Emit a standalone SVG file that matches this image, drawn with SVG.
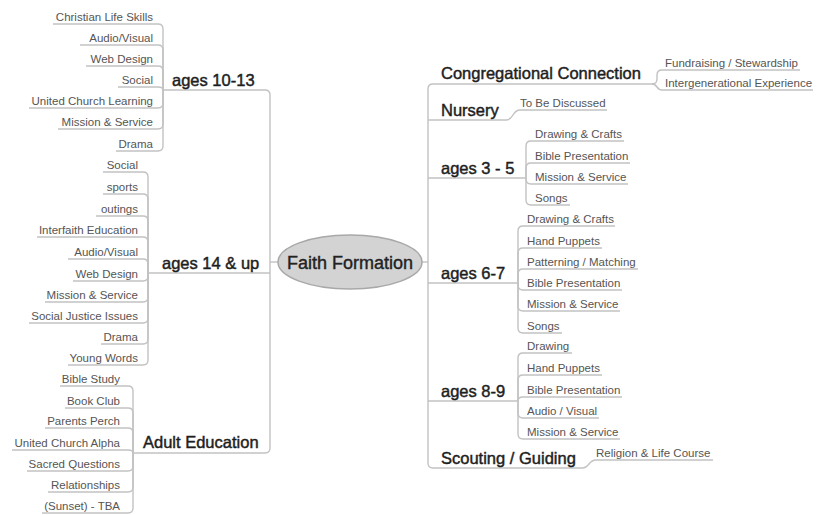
<svg xmlns="http://www.w3.org/2000/svg" width="817" height="515" viewBox="0 0 817 515">
<style>
.leaf{font-family:"Liberation Sans",Arial,sans-serif;font-size:11.5px;fill:#555}
.lt{text-anchor:end}
.topic{font-family:"Liberation Sans",Arial,sans-serif;font-size:16.5px;fill:#1e1e1e;stroke:#1e1e1e;stroke-width:0.45}
.conn path{fill:none;stroke:#c2c2c2;stroke-width:1.4}
</style>
<rect width="817" height="515" fill="#fff"/>
<g class="conn" id="connectors">
<path d="M163,90 H265 Q270,90 270,95 V448 Q270,453 265,453 H133"/>
<path d="M148,273 H270"/>
<path d="M270,262 H278"/>
<path d="M163,90 V29 Q163,24 158,24 H53"/>
<path d="M163,90 V50 Q163,45 158,45 H80"/>
<path d="M163,90 V71 Q163,66 158,66 H86"/>
<path d="M163,90 Q163,87 158,87 H118"/>
<path d="M163,90 V103 Q163,108 158,108 H29"/>
<path d="M163,90 V124 Q163,129 158,129 H58"/>
<path d="M163,90 V146 Q163,151 158,151 H116"/>
<path d="M148,273 V177 Q148,172 143,172 H103"/>
<path d="M148,273 V199 Q148,194 143,194 H103"/>
<path d="M148,273 V221 Q148,216 143,216 H96"/>
<path d="M148,273 V242 Q148,237 143,237 H37"/>
<path d="M148,273 V264 Q148,259 143,259 H68"/>
<path d="M148,273 V276 Q148,281 143,281 H73"/>
<path d="M148,273 V297 Q148,302 143,302 H45"/>
<path d="M148,273 V318 Q148,323 143,323 H29"/>
<path d="M148,273 V339 Q148,344 143,344 H101"/>
<path d="M148,273 V360 Q148,365 143,365 H68"/>
<path d="M133,453 V391 Q133,386 128,386 H60"/>
<path d="M133,453 V413 Q133,408 128,408 H65"/>
<path d="M133,453 V433 Q133,428 128,428 H45"/>
<path d="M133,453 Q133,450 128,450 H12"/>
<path d="M133,453 V466 Q133,471 128,471 H27"/>
<path d="M133,453 V487 Q133,492 128,492 H48"/>
<path d="M133,453 V508 Q133,513 128,513 H42"/>
<path d="M652,84 H433 Q428,84 428,89 V463 Q428,468 433,468 H582"/>
<path d="M422,262 H428"/>
<path d="M428,120 H506"/>
<path d="M428,178 H526"/>
<path d="M428,283 H518"/>
<path d="M428,401 H518"/>
<path d="M652,84 Q657,84 657,79 V75 Q657,70 662,70 H800"/>
<path d="M652,84 C658,84 656,90 662,90 H813"/>
<path d="M506,120 C514,120 512,110 520,110 H607"/>
<path d="M526,178 V146 Q526,141 531,141 H624"/>
<path d="M526,178 V168 Q526,163 531,163 H630"/>
<path d="M526,178 V179 Q526,184 531,184 H628"/>
<path d="M526,178 V200 Q526,205 531,205 H570"/>
<path d="M518,283 V231 Q518,226 523,226 H615"/>
<path d="M518,283 V253 Q518,248 523,248 H602"/>
<path d="M518,283 V274 Q518,269 523,269 H638"/>
<path d="M518,283 V285 Q518,290 523,290 H622"/>
<path d="M518,283 V306 Q518,311 523,311 H620"/>
<path d="M518,283 V328 Q518,333 523,333 H562"/>
<path d="M518,401 V358 Q518,353 523,353 H572"/>
<path d="M518,401 V380 Q518,375 523,375 H602"/>
<path d="M518,401 Q518,397 523,397 H622"/>
<path d="M518,401 V413 Q518,418 523,418 H599"/>
<path d="M518,401 V434 Q518,439 523,439 H620"/>
<path d="M582,468 C590,468 588,460 596,460 H713"/>
</g>

<g id="faith-formation">
<ellipse cx="350" cy="262" rx="72" ry="27" fill="#d3d3d3" stroke="#a8a8a8" stroke-width="1.5"/>
<text x="350" y="268.5" text-anchor="middle" font-family="Liberation Sans, Arial, sans-serif" font-size="18" fill="#222" stroke="#222" stroke-width="0.4">Faith Formation</text>
</g>

<g id="ages-10-13">
<text class="topic" x="172" y="85.5">ages 10-13</text>
<text class="leaf lt" x="153" y="21">Christian Life Skills</text>
<text class="leaf lt" x="153" y="42">Audio/Visual</text>
<text class="leaf lt" x="153" y="63">Web Design</text>
<text class="leaf lt" x="153" y="84">Social</text>
<text class="leaf lt" x="153" y="105">United Church Learning</text>
<text class="leaf lt" x="153" y="126">Mission &amp; Service</text>
<text class="leaf lt" x="153" y="148">Drama</text>
</g>

<g id="ages-14-up">
<text class="topic" x="162" y="268.5">ages 14 &amp; up</text>
<text class="leaf lt" x="138" y="169">Social</text>
<text class="leaf lt" x="138" y="191">sports</text>
<text class="leaf lt" x="138" y="213">outings</text>
<text class="leaf lt" x="138" y="234">Interfaith Education</text>
<text class="leaf lt" x="138" y="256">Audio/Visual</text>
<text class="leaf lt" x="138" y="278">Web Design</text>
<text class="leaf lt" x="138" y="299">Mission &amp; Service</text>
<text class="leaf lt" x="138" y="320">Social Justice Issues</text>
<text class="leaf lt" x="138" y="341">Drama</text>
<text class="leaf lt" x="138" y="362">Young Words</text>
</g>

<g id="adult-education">
<text class="topic" x="143" y="447.5">Adult Education</text>
<text class="leaf lt" x="120" y="383">Bible Study</text>
<text class="leaf lt" x="120" y="405">Book Club</text>
<text class="leaf lt" x="120" y="425">Parents Perch</text>
<text class="leaf lt" x="120" y="447">United Church Alpha</text>
<text class="leaf lt" x="120" y="468">Sacred Questions</text>
<text class="leaf lt" x="120" y="489">Relationships</text>
<text class="leaf lt" x="120" y="510">(Sunset) - TBA</text>
</g>

<g id="congregational-connection">
<text class="topic" x="441" y="78.5">Congregational Connection</text>
<text class="leaf" x="665" y="67">Fundraising / Stewardship</text>
<text class="leaf" x="665" y="87">Intergenerational Experience</text>
</g>

<g id="nursery">
<text class="topic" x="441" y="115.5">Nursery</text>
<text class="leaf" x="520" y="107">To Be Discussed</text>
</g>

<g id="ages-3-5">
<text class="topic" x="441" y="173.5">ages 3 - 5</text>
<text class="leaf" x="535" y="138">Drawing &amp; Crafts</text>
<text class="leaf" x="535" y="160">Bible Presentation</text>
<text class="leaf" x="535" y="181">Mission &amp; Service</text>
<text class="leaf" x="535" y="202">Songs</text>
</g>

<g id="ages-6-7">
<text class="topic" x="441" y="278.5">ages 6-7</text>
<text class="leaf" x="527" y="223">Drawing &amp; Crafts</text>
<text class="leaf" x="527" y="245">Hand Puppets</text>
<text class="leaf" x="527" y="266">Patterning / Matching</text>
<text class="leaf" x="527" y="287">Bible Presentation</text>
<text class="leaf" x="527" y="308">Mission &amp; Service</text>
<text class="leaf" x="527" y="330">Songs</text>
</g>

<g id="ages-8-9">
<text class="topic" x="441" y="396.5">ages 8-9</text>
<text class="leaf" x="527" y="350">Drawing</text>
<text class="leaf" x="527" y="372">Hand Puppets</text>
<text class="leaf" x="527" y="394">Bible Presentation</text>
<text class="leaf" x="527" y="415">Audio / Visual</text>
<text class="leaf" x="527" y="436">Mission &amp; Service</text>
</g>

<g id="scouting-guiding">
<text class="topic" x="441" y="463.5">Scouting / Guiding</text>
<text class="leaf" x="596" y="457">Religion &amp; Life Course</text>
</g>
</svg>
